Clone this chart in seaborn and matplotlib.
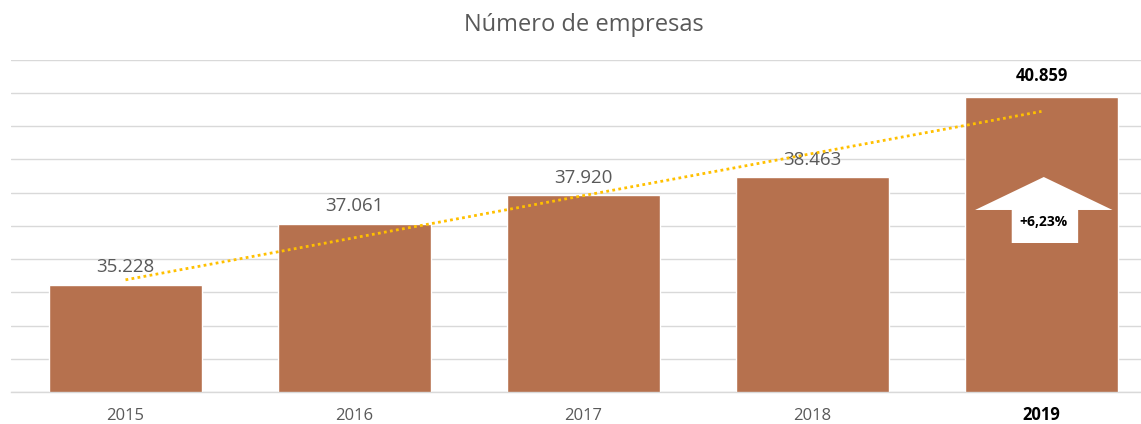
import matplotlib
matplotlib.use("Agg")
import matplotlib.pyplot as plt
from matplotlib.patches import Polygon
import numpy as np
import pandas as pd
import seaborn as sns

# data
years = ["2015", "2016", "2017", "2018", "2019"]
empresas = [35228, 37061, 37920, 38463, 40859]
value_labels = ["35.228", "37.061", "37.920", "38.463", "40.859"]
growth_label = "+6,23%"

sns.set_style("white")
plt.rcParams['font.family'] = ['Open Sans', 'DejaVu Sans']

df = pd.DataFrame({"year": years, "n": empresas})

bar_color = "#B6714E"
grid_color = "#D9D9D9"
text_gray = "#595959"

fig = plt.figure(figsize=(11.41, 4.24), dpi=100)
# plot area runs a little past the right edge of the image, as in the original
ax = fig.add_axes([11 / 1141, (424 - 392) / 424, 1145 / 1141, (392 - 59.5) / 424])

sns.barplot(ax=ax, data=df, x="year", y="n", color=bar_color, width=0.664,
            saturation=1, zorder=2)

ax.set_ylim(32000, 42000)
ax.set_xlim(-0.5, len(years) - 0.5)
ax.set_yticks(np.arange(32000, 42001, 1000))
ax.set_yticklabels([])
ax.tick_params(axis="y", length=0)
ax.yaxis.grid(True, color=grid_color, linewidth=1)
ax.set_axisbelow(True)

for s in ["top", "right", "left"]:
    ax.spines[s].set_visible(False)
ax.spines["bottom"].set_color(grid_color)
ax.spines["bottom"].set_linewidth(1)

# category separators as minor ticks
ax.set_xticks(np.arange(-0.5, len(years), 1), minor=True)
ax.tick_params(axis="x", which="minor", length=5, color=grid_color, width=1)
ax.tick_params(axis="x", which="major", length=0, pad=20.5, labelsize=12,
               labelcolor=text_gray)
ax.set_xlabel("")
ax.set_ylabel("")
for lbl in ax.get_xticklabels():
    lbl.set_verticalalignment("baseline")
    if lbl.get_text() == "2019":
        lbl.set_fontweight("bold")
        lbl.set_color("black")

# data labels
for i, (v, t) in enumerate(zip(empresas, value_labels)):
    if i == len(empresas) - 1:
        ax.annotate(t, (i, v), xytext=(0, 9), textcoords="offset points",
                    ha="center", va="bottom", fontsize=12, fontweight="bold",
                    color="black")
    else:
        ax.annotate(t, (i, v), xytext=(0, 6), textcoords="offset points",
                    ha="center", va="bottom", fontsize=13.5, color=text_gray)

# linear trend line
xs = np.arange(len(empresas))
k, b = np.polyfit(xs, empresas, 1)
ax.plot([xs[0], xs[-1]], [k * xs[0] + b, k * xs[-1] + b], linestyle=(0, (1, 1.2)),
        color="#FFC000", linewidth=2, zorder=3)

# white arrow with growth text inside last bar
cx = len(empresas) - 1
arrow = Polygon([(cx - 0.29, 37474), (cx + 0.01, 38466), (cx + 0.31, 37474),
                 (cx + 0.16, 37474), (cx + 0.16, 36481),
                 (cx - 0.13, 36481), (cx - 0.13, 37474)],
                closed=True, facecolor="white", edgecolor="none", zorder=4)
ax.add_patch(arrow)
ax.text(cx + 0.01, 37110, growth_label, ha="center", va="center", fontsize=10,
        fontweight="bold", color="black", zorder=5)

fig.text(584 / 1141, 1 - 25 / 424, "Número de empresas", ha="center", va="center",
         fontsize=17, color=text_gray)

fig.savefig("out.png", dpi=100)
